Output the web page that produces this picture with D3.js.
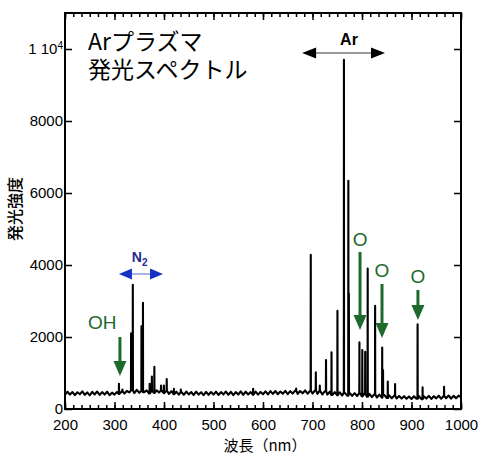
<!DOCTYPE html>
<html lang="ja">
<head>
<meta charset="utf-8">
<title>Arプラズマ 発光スペクトル</title>
<script src="https://cdn.jsdelivr.net/npm/d3@7"></script>
<style>
	body { margin: 0; background: #fff; }
	.tick text { font-family: "Liberation Sans", Arial, sans-serif; font-size: 15px; }
	.jp { font-family: "Noto Sans CJK JP", "Noto Sans", sans-serif; }
</style>
</head>
<body>
<div id="chart"></div>
<script>

	// baseline of the spectrum, one value every 5 nm from 200 to 1000 nm
	var baseStart = 200, baseStep = 5;
	var baseline = [
		390,480,400,470,385,465,410,490,395,460,380,475,405,485,390,470,400,480,385,455,
		400,470,420,490,430,500,460,520,440,530,450,510,470,520,430,505,445,520,460,515,
		440,510,420,495,410,480,400,470,395,485,405,470,390,480,400,465,385,475,395,470,
		400,480,390,470,405,485,395,475,385,470,400,490,395,480,405,470,390,485,400,475,
		410,490,405,495,420,500,410,485,425,505,415,495,430,510,420,500,435,515,425,505,
		430,520,420,510,405,495,400,480,390,470,380,460,375,455,370,450,365,440,360,445,
		350,430,340,420,330,410,320,400,315,390,305,380,300,370,295,360,290,355,285,350,
		280,355,285,360,275,350,290,365,280,355,295,370,285,360,300,375,290,365,300,370,
		330
	];

	// emission lines: wavelength (nm) and peak intensity
	var peakNm  = [309, 316, 333.5, 337, 354.5, 357.5, 371, 375.5, 380.5, 394, 399.8, 405.5, 420, 434,
	               580, 667, 696.5, 706.7, 714.7, 727.3, 738.4, 750.4, 763.5, 772.4, 773.5,
	               794.8, 800.6, 806.5, 811.5, 826.5, 840.8, 842.5, 852.1, 866.8, 912.3, 922.4, 965.8];
	var peakVal = [700, 540, 2100, 3450, 2300, 2950, 700, 900, 1170, 650, 650, 830, 560, 540,
	               560, 570, 4280, 1020, 650, 1360, 1575, 2730, 9700, 6340, 3210,
	               1850, 1640, 1590, 3900, 2870, 1710, 1080, 760, 690, 2350, 600, 620];

	var xTicks = [200, 300, 400, 500, 600, 700, 800, 900, 1000];
	var yTicks = [0, 2000, 4000, 6000, 8000, 10000];
	var minorPerMajor = 6;   // intervals between major x ticks

	// annotations (data units)
	var greenArrows = [
		{label: "OH", nm: 311, from: 2000, to: 917, textNm: 275, textVal: 2222},
		{label: "O", nm: 796, from: 4361, to: 2194, textNm: 796, textVal: 4528},
		{label: "O", nm: 840.4, from: 3472, to: 1972, textNm: 840.4, textVal: 3667},
		{label: "O", nm: 913, from: 3306, to: 2472, textNm: 913, textVal: 3500}
	];
	var n2Band = {from: 309, to: 398, val: 3750, textNm: 335, textVal: 4083};
	var arBand = {from: 679, to: 846.5, val: 9889, textNm: 773.7, textVal: 10111};

	var margin = {top: 13, right: 24, bottom: 48, left: 65};
	var outer_width = 485, outer_height = 457;
	var width = outer_width - margin.left - margin.right;
	var height = outer_height - margin.top - margin.bottom;

	var svg = d3.select("#chart").append("svg")
		.attr("width", outer_width)
		.attr("height", outer_height)
		.append("g")
		.attr("transform", "translate(" + margin.left + "," + margin.top + ")");

	var xScale = d3.scaleLinear().domain([200, 1000]).range([0, width]);
	var yScale = d3.scaleLinear().domain([0, 11000]).range([height, 0]);

	// build the spectrum: baseline points plus a narrow spike for each line
	var spectrum = baseline.map(function(v, i) { return [baseStart + i * baseStep, v]; });
	peakNm.forEach(function(nm, i) {
		var b = baseline[Math.round((nm - baseStart) / baseStep)];
		spectrum.push([nm - 0.25, b], [nm, peakVal[i]], [nm + 0.25, b]);
	});
	spectrum.sort(function(a, b) { return a[0] - b[0]; });

	var line = d3.line()
		.x(function(d) { return xScale(d[0]); })
		.y(function(d) { return yScale(d[1]); });

	svg.append("path")
		.datum(spectrum)
		.attr("fill", "none")
		.attr("stroke", "#000")
		.attr("stroke-width", 2.1)
		.attr("stroke-linejoin", "round")
		.attr("d", line);

	// axes, all ticks pointing inward
	var minorX = d3.range(0, (xTicks.length - 1) * minorPerMajor + 1).map(function(i) {
		return 200 + i * 100 / minorPerMajor;
	});
	function styleAxis(g) {
		g.select(".domain").remove();
		g.selectAll(".tick line").attr("stroke", "#000").attr("stroke-width", 1.5);
	}

	svg.append("g").attr("transform", "translate(0," + height + ")")
		.call(d3.axisBottom(xScale).tickValues(minorX).tickSize(-4).tickFormat(""))
		.call(styleAxis);
	svg.append("g").attr("transform", "translate(0," + height + ")")
		.call(d3.axisBottom(xScale).tickValues(xTicks).tickSize(-7).tickPadding(10).tickFormat(d3.format("d")))
		.call(styleAxis)
		.selectAll("text").attr("fill", "#000");
	svg.append("g")
		.call(d3.axisTop(xScale).tickValues(minorX).tickSize(-4).tickFormat(""))
		.call(styleAxis);
	svg.append("g")
		.call(d3.axisTop(xScale).tickValues(xTicks).tickSize(-7).tickFormat(""))
		.call(styleAxis);

	var yAxisG = svg.append("g")
		.call(d3.axisLeft(yScale).tickValues(yTicks).tickSize(-7).tickPadding(2)
			.tickFormat(function(d) { return d === 10000 ? "" : d; }))
		.call(styleAxis);
	yAxisG.selectAll("text").attr("fill", "#000");
	// the 1e4 label in the original style
	var t4 = yAxisG.append("text")
		.attr("x", -2).attr("y", yScale(10000)).attr("dy", "0.32em")
		.attr("text-anchor", "end").attr("fill", "#000")
		.style("font-family", "'Liberation Sans', Arial, sans-serif").style("font-size", "15px");
	t4.append("tspan").text("1 10");
	t4.append("tspan").attr("dy", "-0.45em").style("font-size", "10px").text("4");

	svg.append("g").attr("transform", "translate(" + width + ",0)")
		.call(d3.axisRight(yScale).tickValues(yTicks).tickSize(-7).tickFormat(""))
		.call(styleAxis);

	svg.append("rect")
		.attr("width", width).attr("height", height)
		.attr("fill", "none").attr("stroke", "#000").attr("stroke-width", 2);

	// axis titles
	svg.append("text").attr("class", "jp")
		.attr("transform", "translate(" + (-44) + "," + (height / 2 - 2) + ") rotate(-90)")
		.attr("text-anchor", "middle")
		.style("font-size", "16px").style("font-weight", "500")
		.text("発光強度");
	svg.append("text").attr("class", "jp")
		.attr("x", width / 2 + 2).attr("y", height + 42)
		.attr("text-anchor", "middle")
		.style("font-size", "15px")
		.text("波長（nm）");

	// chart title
	svg.append("text").attr("class", "jp").style("font-size", "23px")
		.attr("x", 23).attr("y", 37).text("Arプラズマ");
	svg.append("text").attr("class", "jp").style("font-size", "23px")
		.attr("x", 23).attr("y", 65).text("発光スペクトル");

	// arrows
	function head(x, y, dir, w, h, color) {
		// dir: "down", "left", "right"
		var pts;
		if (dir === "down") pts = [[x - w / 2, y - h], [x + w / 2, y - h], [x, y]];
		else if (dir === "left") pts = [[x, y], [x + h, y - w / 2], [x + h, y + w / 2]];
		else pts = [[x, y], [x - h, y - w / 2], [x - h, y + w / 2]];
		svg.append("polygon").attr("points", pts.join(" ")).attr("fill", color);
	}

	var green = "#1d6a2c";
	greenArrows.forEach(function(a) {
		var x = xScale(a.nm);
		svg.append("line")
			.attr("x1", x).attr("x2", x)
			.attr("y1", yScale(a.from)).attr("y2", yScale(a.to) - 12)
			.attr("stroke", green).attr("stroke-width", 3);
		head(x, yScale(a.to), "down", 13, 15, green);
		svg.append("text")
			.attr("x", xScale(a.textNm)).attr("y", yScale(a.textVal))
			.attr("text-anchor", "middle")
			.attr("fill", green)
			.style("font-family", "'Liberation Sans', Arial, sans-serif")
			.style("font-size", "19px")
			.text(a.label);
	});

	// N2 band
	var n2y = yScale(n2Band.val);
	svg.append("line")
		.attr("x1", xScale(n2Band.from) + 10).attr("x2", xScale(n2Band.to) - 10)
		.attr("y1", n2y).attr("y2", n2y)
		.attr("stroke", "#6d82d8").attr("stroke-width", 1.2);
	head(xScale(n2Band.from), n2y, "left", 11, 13, "#1432c6");
	head(xScale(n2Band.to), n2y, "right", 11, 13, "#1432c6");
	var n2t = svg.append("text")
		.attr("x", xScale(n2Band.textNm)).attr("y", yScale(n2Band.textVal))
		.attr("fill", "#1c2a8e")
		.style("font-family", "'Liberation Sans', Arial, sans-serif")
		.style("font-size", "14px").style("font-weight", "bold");
	n2t.append("tspan").text("N");
	n2t.append("tspan").attr("dy", "0.35em").style("font-size", "10px").text("2");

	// Ar band
	var ary = yScale(arBand.val);
	svg.append("line")
		.attr("x1", xScale(arBand.from) + 10).attr("x2", xScale(arBand.to) - 10)
		.attr("y1", ary).attr("y2", ary)
		.attr("stroke", "#999").attr("stroke-width", 2);
	head(xScale(arBand.from), ary, "left", 11, 14, "#000");
	head(xScale(arBand.to), ary, "right", 11, 14, "#000");
	svg.append("text")
		.attr("x", xScale(arBand.textNm)).attr("y", yScale(arBand.textVal))
		.attr("text-anchor", "middle")
		.style("font-family", "'Liberation Sans', Arial, sans-serif")
		.style("font-size", "16px").style("font-weight", "bold")
		.text("Ar");

</script>
</body>
</html>
